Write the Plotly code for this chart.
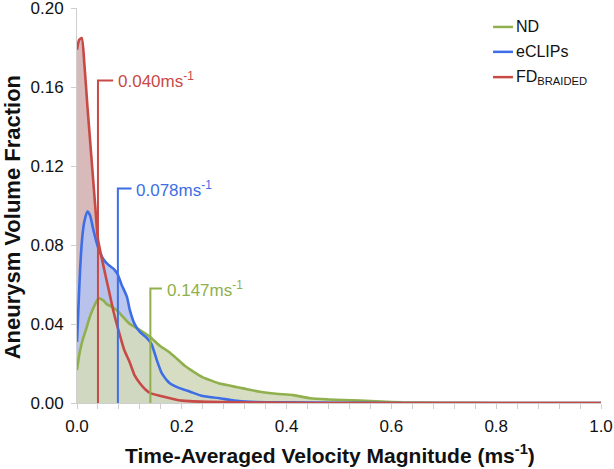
import plotly.graph_objects as go

# ---- data ----
nd_x = [0, 0.004, 0.008, 0.012, 0.018, 0.025, 0.031, 0.041, 0.05, 0.057, 0.065, 0.076, 0.09,
        0.101, 0.12, 0.139, 0.158, 0.175, 0.19, 0.205, 0.222, 0.24, 0.254, 0.27, 0.286, 0.3,
        0.317, 0.349, 0.38, 0.413, 0.445, 0.48, 0.508, 0.54, 0.58, 0.62, 0.7, 0.8, 1.0]
nd_y = [0.0167, 0.024, 0.029, 0.033, 0.038, 0.044, 0.048, 0.053, 0.052, 0.050, 0.049, 0.047, 0.043,
        0.040, 0.037, 0.0336, 0.029, 0.026, 0.0226, 0.019, 0.0159, 0.013, 0.0116, 0.010, 0.0091, 0.0083,
        0.0074, 0.0057, 0.0047, 0.004, 0.0024, 0.0018, 0.0015, 0.0012, 0.0007, 0.0003, 0.0001, 0.0, 0.0]

ec_x = [0, 0.003, 0.006, 0.01, 0.014, 0.02, 0.025, 0.031, 0.04, 0.05, 0.06, 0.07, 0.078, 0.085,
        0.095, 0.101, 0.11, 0.12, 0.133, 0.142, 0.152, 0.162, 0.177, 0.197, 0.216, 0.24, 0.27,
        0.3, 0.33, 0.4, 0.5, 0.6, 1.0]
ec_y = [0.031, 0.05, 0.068, 0.084, 0.092, 0.097, 0.095, 0.088, 0.079, 0.073, 0.070, 0.068, 0.065, 0.060,
        0.054, 0.047, 0.040, 0.036, 0.033, 0.030, 0.022, 0.015, 0.010, 0.0074, 0.0057, 0.0035, 0.0025,
        0.0012, 0.0006, 0.0003, 0.0001, 0.0, 0.0]

fd_x = [0, 0.004, 0.009, 0.014, 0.02, 0.025, 0.03, 0.035, 0.04, 0.05, 0.06, 0.07, 0.08, 0.09,
        0.1, 0.11, 0.12, 0.13, 0.14, 0.16, 0.18, 0.2, 0.25, 0.3, 0.4, 0.5, 1.0]
fd_y = [0.179, 0.184, 0.185, 0.172, 0.150, 0.133, 0.116, 0.099, 0.083, 0.070, 0.058, 0.046, 0.036, 0.027,
        0.021, 0.014, 0.010, 0.007, 0.005, 0.0035, 0.0023, 0.0012, 0.0006, 0.0003, 0.0001, 0.0, 0.0]

series_names = ["ND", "eCLIPs", "FD<sub>BRAIDED</sub>"]
mean_labels = ["0.147ms<sup>-1</sup>", "0.078ms<sup>-1</sup>", "0.040ms<sup>-1</sup>"]
mean_x = [0.14, 0.078, 0.04]          # where the marker lines are drawn
marker_top = [0.058, 0.1087, 0.1635]  # height of the bracket marker
bracket_len = [0.022, 0.026, 0.029]

y_ticks = [0.0, 0.04, 0.08, 0.12, 0.16, 0.20]
x_ticks = [0.0, 0.2, 0.4, 0.6, 0.8, 1.0]

x_title = "<b>Time-Averaged Velocity Magnitude (ms<sup>-1</sup>)</b>"
y_title = "<b>Aneurysm Volume Fraction</b>"

line_cols = ["#8fb04c", "#3d6ee6", "#c84a46"]
fill_cols = ["rgba(210,218,190,0.92)", "rgba(182,194,238,0.92)", "rgba(216,186,186,1)"]

FONT = "Liberation Sans, Arial, Helvetica, sans-serif"

fig = go.Figure()
curves = [(nd_x, nd_y), (ec_x, ec_y), (fd_x, fd_y)]
LINE_SHAPE = dict(shape="spline", smoothing=0.6)

# fills: red at the back, then blue, then green in front
for i in [2, 1, 0]:
    xs, ys = curves[i]
    fig.add_trace(go.Scatter(x=xs, y=ys, mode="lines", line=dict(width=0, **LINE_SHAPE),
                             fill="tozeroy", fillcolor=fill_cols[i], showlegend=False, hoverinfo="skip"))
# lines on top
for i in [0, 1, 2]:
    xs, ys = curves[i]
    fig.add_trace(go.Scatter(x=xs, y=ys, mode="lines", line=dict(color=line_cols[i], width=2.6, **LINE_SHAPE),
                             showlegend=False, hoverinfo="skip"))

for mx, top, bl, lc, lab in zip(mean_x, marker_top, bracket_len, line_cols, mean_labels):
    fig.add_trace(go.Scatter(x=[mx, mx, mx + bl], y=[0, top, top], mode="lines",
                             line=dict(color=lc, width=2), showlegend=False, hoverinfo="skip"))
    fig.add_annotation(x=mx + bl + 0.005, y=top, text=lab, showarrow=False, xanchor="left", yanchor="middle",
                       font=dict(family=FONT, size=17, color=lc))

# custom legend
leg_y = [0.952, 0.889, 0.825]
for name, lc, ly in zip(series_names, line_cols, leg_y):
    fig.add_shape(type="line", xref="paper", yref="paper", x0=0.794, x1=0.832, y0=ly, y1=ly,
                  line=dict(color=lc, width=2.5))
    fig.add_annotation(xref="paper", yref="paper", x=0.834, y=ly, text=name, showarrow=False,
                       xanchor="left", yanchor="middle", font=dict(family=FONT, size=16, color="#111"))

# axis titles
fig.add_annotation(xref="paper", yref="paper", x=0.482, y=-0.13, text=x_title, showarrow=False,
                   xanchor="center", yanchor="middle", font=dict(family=FONT, size=21, color="#111"))
fig.add_annotation(xref="paper", yref="paper", x=-0.124, y=0.47, text=y_title, showarrow=False, textangle=-90,
                   xanchor="center", yanchor="middle", font=dict(family=FONT, size=22, color="#111"))

fig.update_layout(
    width=614, height=469,
    margin=dict(l=77, r=13, t=8, b=66),
    paper_bgcolor="white", plot_bgcolor="white",
    font=dict(family=FONT, size=16, color="#111"),
    showlegend=False,
)
fig.update_xaxes(range=[0, 1], tickvals=x_ticks, ticktext=[f"{v:.1f}" for v in x_ticks], automargin=False,
                 showgrid=False, zeroline=False, showline=True, linecolor="#cfcfcf", linewidth=1,
                 ticks="outside", ticklen=5, tickcolor="#cfcfcf", ticklabelstandoff=3,
                 ticklabeloverflow="allow",
                 minor=dict(dtick=0.04, ticks="outside", ticklen=5, tickcolor="#cfcfcf"),
                 tickfont=dict(size=17))
fig.update_yaxes(range=[0, 0.2002], tickvals=y_ticks, ticktext=[f"{v:.2f}" for v in y_ticks], automargin=False,
                 showgrid=False, zeroline=False, showline=True, linecolor="#cfcfcf", linewidth=1,
                 ticks="outside", ticklen=5, tickcolor="#cfcfcf", tickfont=dict(size=17), ticklabelstandoff=4,
                 ticklabeloverflow="allow")

fig.write_html("out.html", config={"displayModeBar": False},
               post_script="document.body.style.margin='0';document.body.style.overflow='hidden';")
